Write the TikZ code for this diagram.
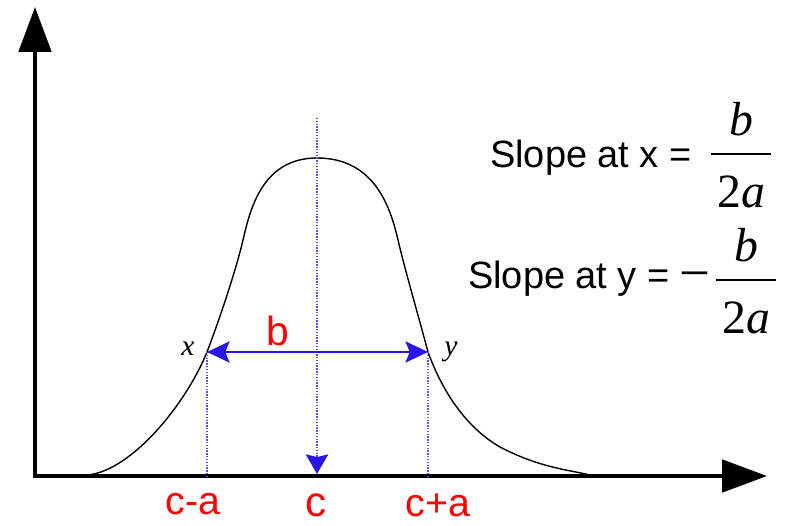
\documentclass[tikz,border=0pt]{standalone}
\usepackage{fontspec}
\setmainfont{Liberation Sans}
\newfontfamily\timesfont{Liberation Serif}
\usetikzlibrary{arrows.meta, positioning}
\definecolor{lineblue}{RGB}{40,20,230}
\setlength{\arrayrulewidth}{1.8pt}
\tikzset{
    curveplot/.style={x=0.025cm, y=-0.025cm},
    axis/.style={line width=3pt, line cap=rect, -{Triangle[length=32pt,width=23pt]}},
    bell/.style={line width=1pt},
    guide/.style={lineblue!75, line width=1pt, dash pattern=on 1pt off 1pt},
    span/.style={lineblue, line width=1.8pt,
        {Stealth[length=16pt,width=15pt,inset=3pt]}-{Stealth[length=16pt,width=15pt,inset=3pt]}},
    tick/.style={text=red, font=\fontsize{28}{30}\selectfont, anchor=base, inner sep=0pt},
    pointlabel/.style={font=\timesfont\itshape\fontsize{21}{24}\selectfont, anchor=base, inner sep=0pt},
    slope/.style={font=\fontsize{27}{30}\selectfont, anchor=base east, inner sep=0pt},
    ratio/.style={font=\timesfont\fontsize{34}{40}\selectfont, anchor=north, inner sep=0pt},
}
% b over 2a, set in Times
\newcommand{\bovertwoa}{%
    \begin{tabular}{@{\kern4.5pt}c@{\kern4.5pt}}
        \itshape b\\ \hline
        \rule{0pt}{37pt}2\itshape a
    \end{tabular}}

\begin{document}
\begin{tikzpicture}[curveplot]
    \useasboundingbox (0,0) rectangle (800,525);

    % axes
    \coordinate (o)    at (35,476);
    \coordinate (ytop) at (35,7);
    \coordinate (xend) at (767,476);
    \draw[axis] (o) -- (ytop);
    \draw[axis] (o) -- (xend);

    % points on the curve and below it
    \coordinate (px)   at (207,352);
    \coordinate (py)   at (428,352);
    \coordinate (peak) at (317,158);
    \coordinate (top)  at (317,118);
    \coordinate (c)    at (317,474);
    \coordinate (ca)   at (207,476);
    \coordinate (cb)   at (428,476);

    \draw[bell] (88,475) .. controls (133,470) and (187,402) .. (px)
        .. controls (220,318) and (236,270) .. (243,240)
        .. controls (250,210) and (262,158) .. (peak)
        .. controls (376,158) and (391,210) .. (398,240)
        .. controls (405,270) and (419,318) .. (py)
        .. controls (440,385) and (462,425) .. (500,447)
        .. controls (540,468) and (570,470) .. (590,475);

    \draw[guide, -{Stealth[length=14pt,width=16pt,inset=2pt,color=lineblue]}] (top) -- (c);
    \draw[guide] (px) -- (ca);
    \draw[guide] (py) -- (cb);
    \draw[span] (px) -- (py);

    % labels
    \node[tick] (lca) at (193,514) {c-a};
    \node[tick, font=\fontsize{30}{32}\selectfont] (lc) at (316,516) {c};
    \node[tick] (lcb) at (438,516) {c+a};
    \node[tick, font=\fontsize{29}{32}\selectfont] (lb) at (278,345) {b};
    \node[pointlabel] (lx) at (188,355) {x};
    \node[pointlabel] (ly) at (451,355) {y};

    \node[slope] (s1) at (692,167) {Slope at x =};
    \node[ratio] (f1) at (741,96) {\bovertwoa};
    \node[slope] (s2) at (670,288) {Slope at y =};
    \node[ratio, anchor=base, font=\timesfont\fontsize{39}{44}\selectfont] (m2) at (695,291) {−};
    \node[ratio] (f2) at (746,222) {\bovertwoa};
\end{tikzpicture}
\end{document}
